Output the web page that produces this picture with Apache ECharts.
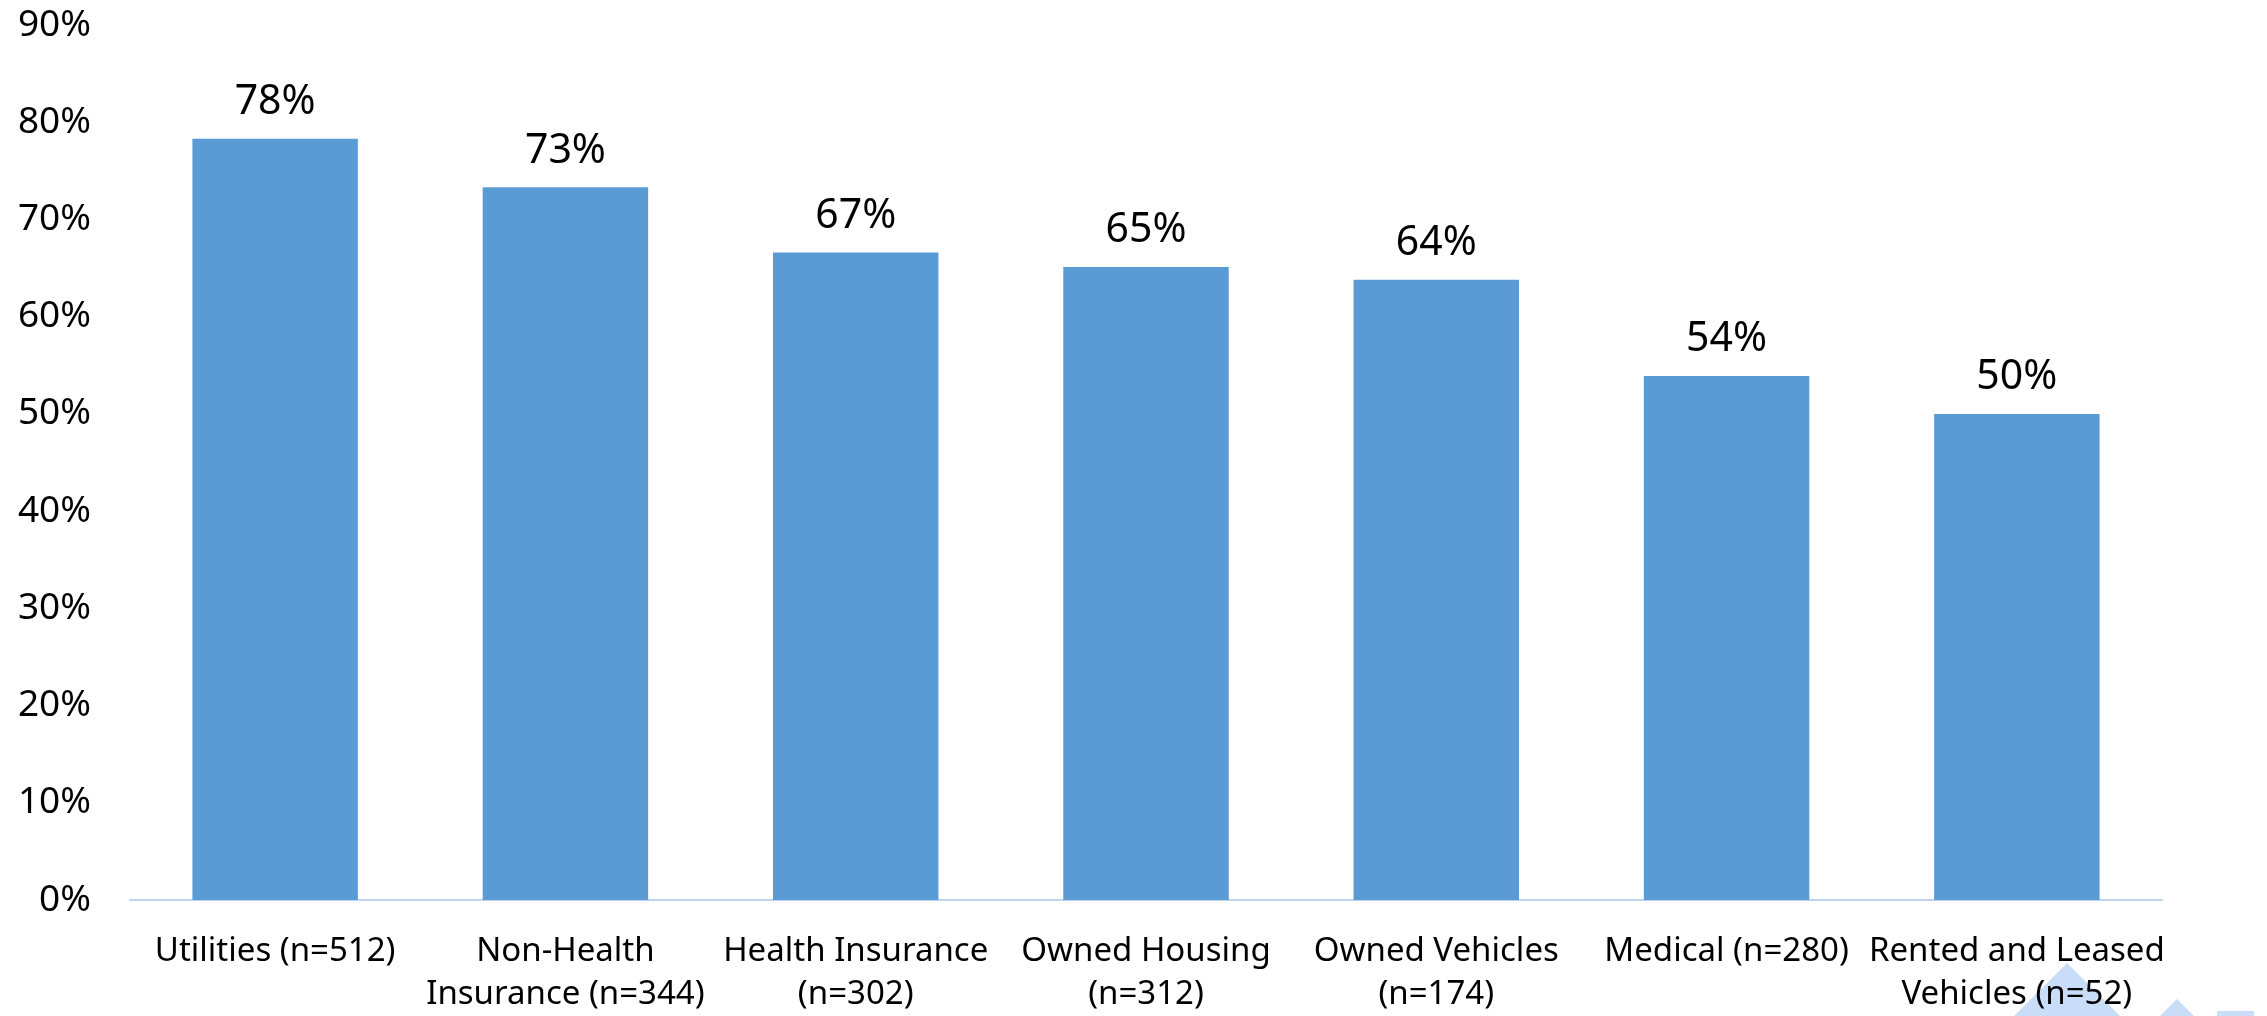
<!DOCTYPE html>
<html>
<head>
<meta charset="utf-8">
<script src="https://cdn.jsdelivr.net/npm/echarts@6/dist/echarts.min.js"></script>
<style>
html,body{margin:0;padding:0;background:#fff;}
#chart{width:2267px;height:1016px;}
</style>
</head>
<body>
<div id="chart"></div>
<script>
const categories = [
  "Utilities (n=512)",
  "Non-Health\nInsurance (n=344)",
  "Health Insurance\n(n=302)",
  "Owned Housing\n(n=312)",
  "Owned Vehicles\n(n=174)",
  "Medical (n=280)",
  "Rented and Leased\nVehicles (n=52)"
];
const values = [78.3, 73.3, 66.6, 65.1, 63.8, 53.9, 50.0];
const yTicks = [0, 10, 20, 30, 40, 50, 60, 70, 80, 90];

const FONT = "Noto Sans";
const chart = echarts.init(document.getElementById('chart'), null, {renderer: 'canvas'});
chart.setOption({
  animation: false,
  backgroundColor: '#ffffff',
  grid: {left: 130, right: 105, top: 25, bottom: 112, containLabel: false},
  xAxis: {
    type: 'category',
    data: categories,
    axisLine: {show: true, lineStyle: {color: '#BDD3EE', width: 2}},
    axisTick: {show: false},
    axisLabel: {color: '#000', fontFamily: FONT, fontSize: 33, lineHeight: 43, margin: 30, interval: 0}
  },
  yAxis: {
    type: 'value',
    min: yTicks[0],
    max: yTicks[yTicks.length - 1],
    interval: 10,
    splitLine: {show: false},
    axisLine: {show: false},
    axisTick: {show: false},
    axisLabel: {color: '#000', fontFamily: FONT, fontSize: 37, margin: 39, formatter: '{value}%'}
  },
  series: [{
    type: 'bar',
    data: values,
    barWidth: '57%',
    itemStyle: {color: '#5B9BD5'},
    label: {
      show: true,
      position: 'top',
      distance: 16,
      color: '#000',
      fontFamily: FONT,
      fontSize: 41,
      formatter: p => Math.round(p.value) + '%'
    }
  }],
  graphic: [
    {type: 'polygon', z: -1, shape: {points: [[2067, 963], [2014, 1016], [2120, 1016]]}, style: {fill: '#C9DCF8'}},
    {type: 'polygon', z: -1, shape: {points: [[2177, 999], [2160, 1016], [2194, 1016]]}, style: {fill: '#C9DCF8'}},
    {type: 'rect', z: -1, shape: {x: 2217, y: 1011, width: 37, height: 5}, style: {fill: '#C9DCF8'}}
  ]
});
</script>
</body>
</html>
